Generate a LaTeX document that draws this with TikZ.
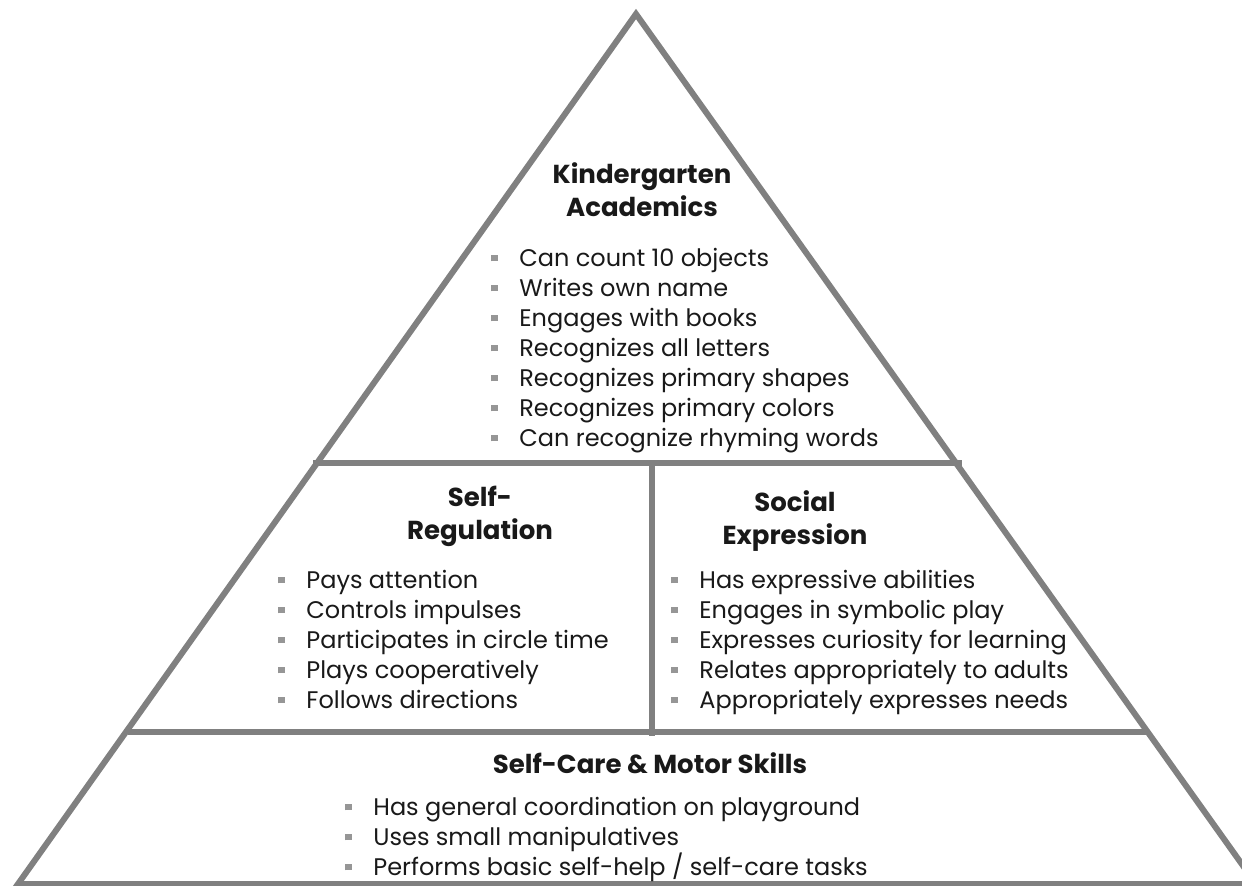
\documentclass[tikz,border=0pt]{standalone}
\usepackage{fontspec}
\setmainfont{Poppins}
\usepackage{xcolor}
\usepackage{tikz}
\usetikzlibrary{positioning}
\definecolor{pgray}{RGB}{128,128,128}
\definecolor{bgray}{RGB}{150,150,150}
\definecolor{ink}{RGB}{25,25,25}
% small square bullet in front of each item
\newcommand{\bul}{\makebox[14pt][l]{\textcolor{bgray}{\rule[2.6pt]{3.4pt}{3.4pt}}}}

\begin{document}
\begin{tikzpicture}[
  x=0.5pt,y=-0.5pt,
  edge/.style={draw=pgray,line width=3pt},
  head/.style={font=\bfseries\fontsize{13}{16.5}\selectfont,align=center,
               inner sep=0pt,text=ink},
  items/.style={font=\fontsize{12}{15}\selectfont,align=left,
                inner sep=0pt,anchor=north west,text=ink},
  ]
  \useasboundingbox (0,0) rectangle (1242,886);
  \clip (0,0) rectangle (1242,886);
  % pyramid outline and the level dividers
  \coordinate (apex) at (636,14);
  \coordinate (bl)   at (18,884);
  \coordinate (br)   at (1256,884);
  \coordinate (t1l)  at (313,463);
  \coordinate (t1r)  at (962,463);
  \coordinate (t2l)  at (128,732);
  \coordinate (t2r)  at (1148,732);
  \coordinate (vt)   at (652,463);
  \coordinate (vb)   at (652,736);
  \draw[edge,line join=miter] (apex) -- (br) -- (bl) -- cycle;
  \draw[edge] (t1l) -- (t1r);
  \draw[edge] (t2l) -- (t2r);
  \draw[edge] (vt)  -- (vb);
  % top level
  \node[head]  (kinder) at (642,190) {Kindergarten\\Academics};
  \node[items] (acad)   at (491,248) {\bul Can count 10 objects\\
    \bul Writes own name\\ \bul Engages with books\\
    \bul Recognizes all letters\\ \bul Recognizes primary shapes\\
    \bul Recognizes primary colors\\ \bul Can recognize rhyming words};
  % middle level
  \node[head]  (selfreg) at (480,516) {Self-\\Regulation};
  \node[items] (reg)     at (278,570) {\bul Pays attention\\
    \bul Controls impulses\\ \bul Participates in circle time\\
    \bul Plays cooperatively\\ \bul Follows directions};
  \node[head]  (social)  at (795,521) {Social\\Expression};
  \node[items] (soc)     at (671,570) {\bul Has expressive abilities\\
    \bul Engages in symbolic play\\ \bul Expresses curiosity for learning\\
    \bul Relates appropriately to adults\\
    \bul Appropriately expresses needs};
  % base level
  \node[head]  (care)  at (650,763) {Self-Care \& Motor Skills};
  \node[items] (motor) at (345,797) {\bul Has general coordination on playground\\
    \bul Uses small manipulatives\\
    \bul Performs basic self-help / self-care tasks};
\end{tikzpicture}
\end{document}
